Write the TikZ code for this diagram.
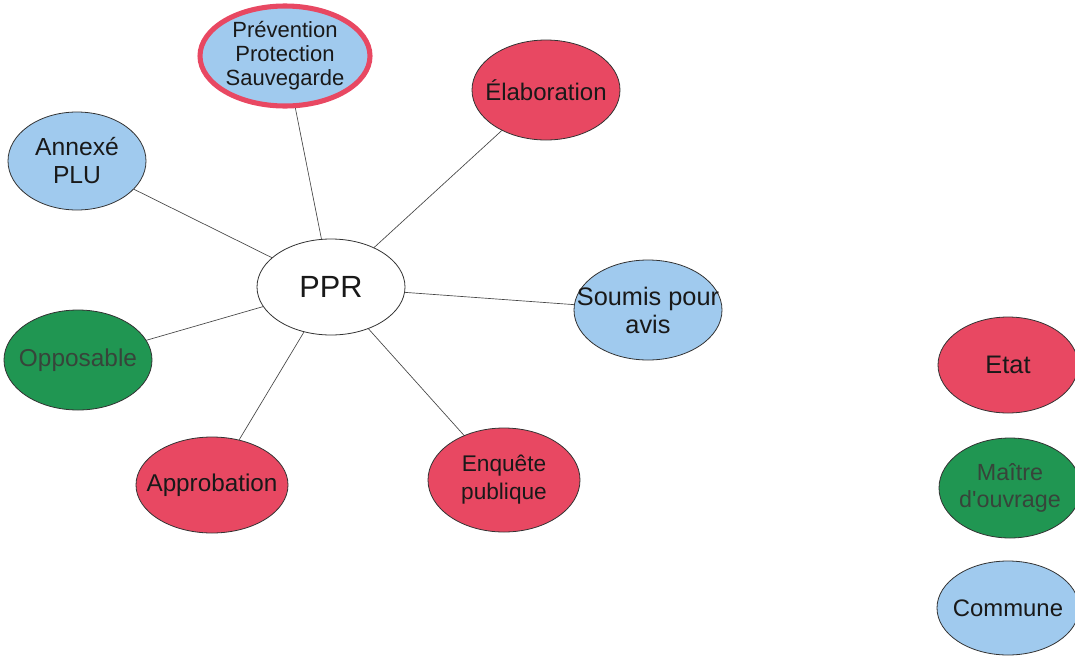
\documentclass[tikz,border=0pt]{standalone}
\usepackage{fontspec}
\setmainfont{Liberation Sans}[Ligatures=TeXOff]
\usetikzlibrary{shapes.geometric}
\definecolor{cred}{RGB}{232,72,98}
\definecolor{cgreen}{RGB}{32,150,82}
\definecolor{cblue}{RGB}{160,202,238}
\definecolor{gtext}{RGB}{55,68,58}
\definecolor{lcol}{RGB}{70,70,70}
\tikzset{
  bub/.style={ellipse, draw=black!80, line width=0.6pt, inner sep=0pt},
  txt/.style={align=center, inner sep=0pt, text=black!90},
  gtxt/.style={txt, text=gtext},
  redb/.style={bub, fill=cred},
  greenb/.style={bub, fill=cgreen},
  blueb/.style={bub, fill=cblue},
  link/.style={draw=lcol, line width=0.5pt}
}
\begin{document}
\begin{tikzpicture}[x=0.75pt,y=-0.75pt]
\useasboundingbox (0,0) rectangle (1075,657);
\node[bub, fill=white, minimum width=148*0.75pt, minimum height=96*0.75pt,
  label={[txt, font=\fontsize{23}{25}\selectfont]center:PPR}] (ppr) at (331,287) {};
\node[blueb, draw=cred, line width=3.8pt, minimum width=170*0.75pt, minimum height=100*0.75pt,
  label={[txt, font=\fontsize{16.5}{18}\selectfont]center:{Prévention\\Protection\\Sauvegarde}}] (prev) at (285,56) {};
\node[redb, minimum width=148*0.75pt, minimum height=100*0.75pt,
  label={[txt, font=\fontsize{18}{20}\selectfont]center:Élaboration}] (elab) at (546,90) {};
\node[blueb, minimum width=138*0.75pt, minimum height=98*0.75pt,
  label={[txt, font=\fontsize{18.5}{21}\selectfont]center:{Annexé\\PLU}}] (annexe) at (77,161) {};
\node[blueb, minimum width=148*0.75pt, minimum height=100*0.75pt,
  label={[txt, font=\fontsize{19}{21}\selectfont]center:{Soumis pour\\avis}}] (soumis) at (648,310) {};
\node[greenb, minimum width=148*0.75pt, minimum height=100*0.75pt,
  label={[gtxt, font=\fontsize{18.3}{20}\selectfont]center:Opposable}] (oppo) at (78,360) {};
\node[redb, minimum width=152*0.75pt, minimum height=96*0.75pt,
  label={[txt, font=\fontsize{18.2}{20}\selectfont]center:Approbation}] (appro) at (212,485) {};
\node[redb, minimum width=152*0.75pt, minimum height=104*0.75pt,
  label={[txt, font=\fontsize{17}{21}\selectfont]center:{Enquête\\publique}}] (enq) at (504,480) {};
\node[redb, minimum width=140*0.75pt, minimum height=96*0.75pt,
  label={[txt, font=\fontsize{19}{21}\selectfont]center:Etat}] (etat) at (1008,365) {};
\node[greenb, minimum width=142*0.75pt, minimum height=100*0.75pt,
  label={[gtxt, font=\fontsize{17.5}{20}\selectfont]center:{Maître\\d'ouvrage}}] (mo) at (1010,488) {};
\node[blueb, minimum width=142*0.75pt, minimum height=94*0.75pt,
  label={[txt, font=\fontsize{17.9}{20}\selectfont]center:Commune}] (commune) at (1008,608) {};
\draw[link] (ppr) -- (prev);
\draw[link] (ppr) -- (elab);
\draw[link] (ppr) -- (annexe);
\draw[link] (ppr) -- (soumis);
\draw[link] (ppr) -- (oppo);
\draw[link] (ppr) -- (appro);
\draw[link] (ppr) -- (enq);
\end{tikzpicture}
\end{document}
